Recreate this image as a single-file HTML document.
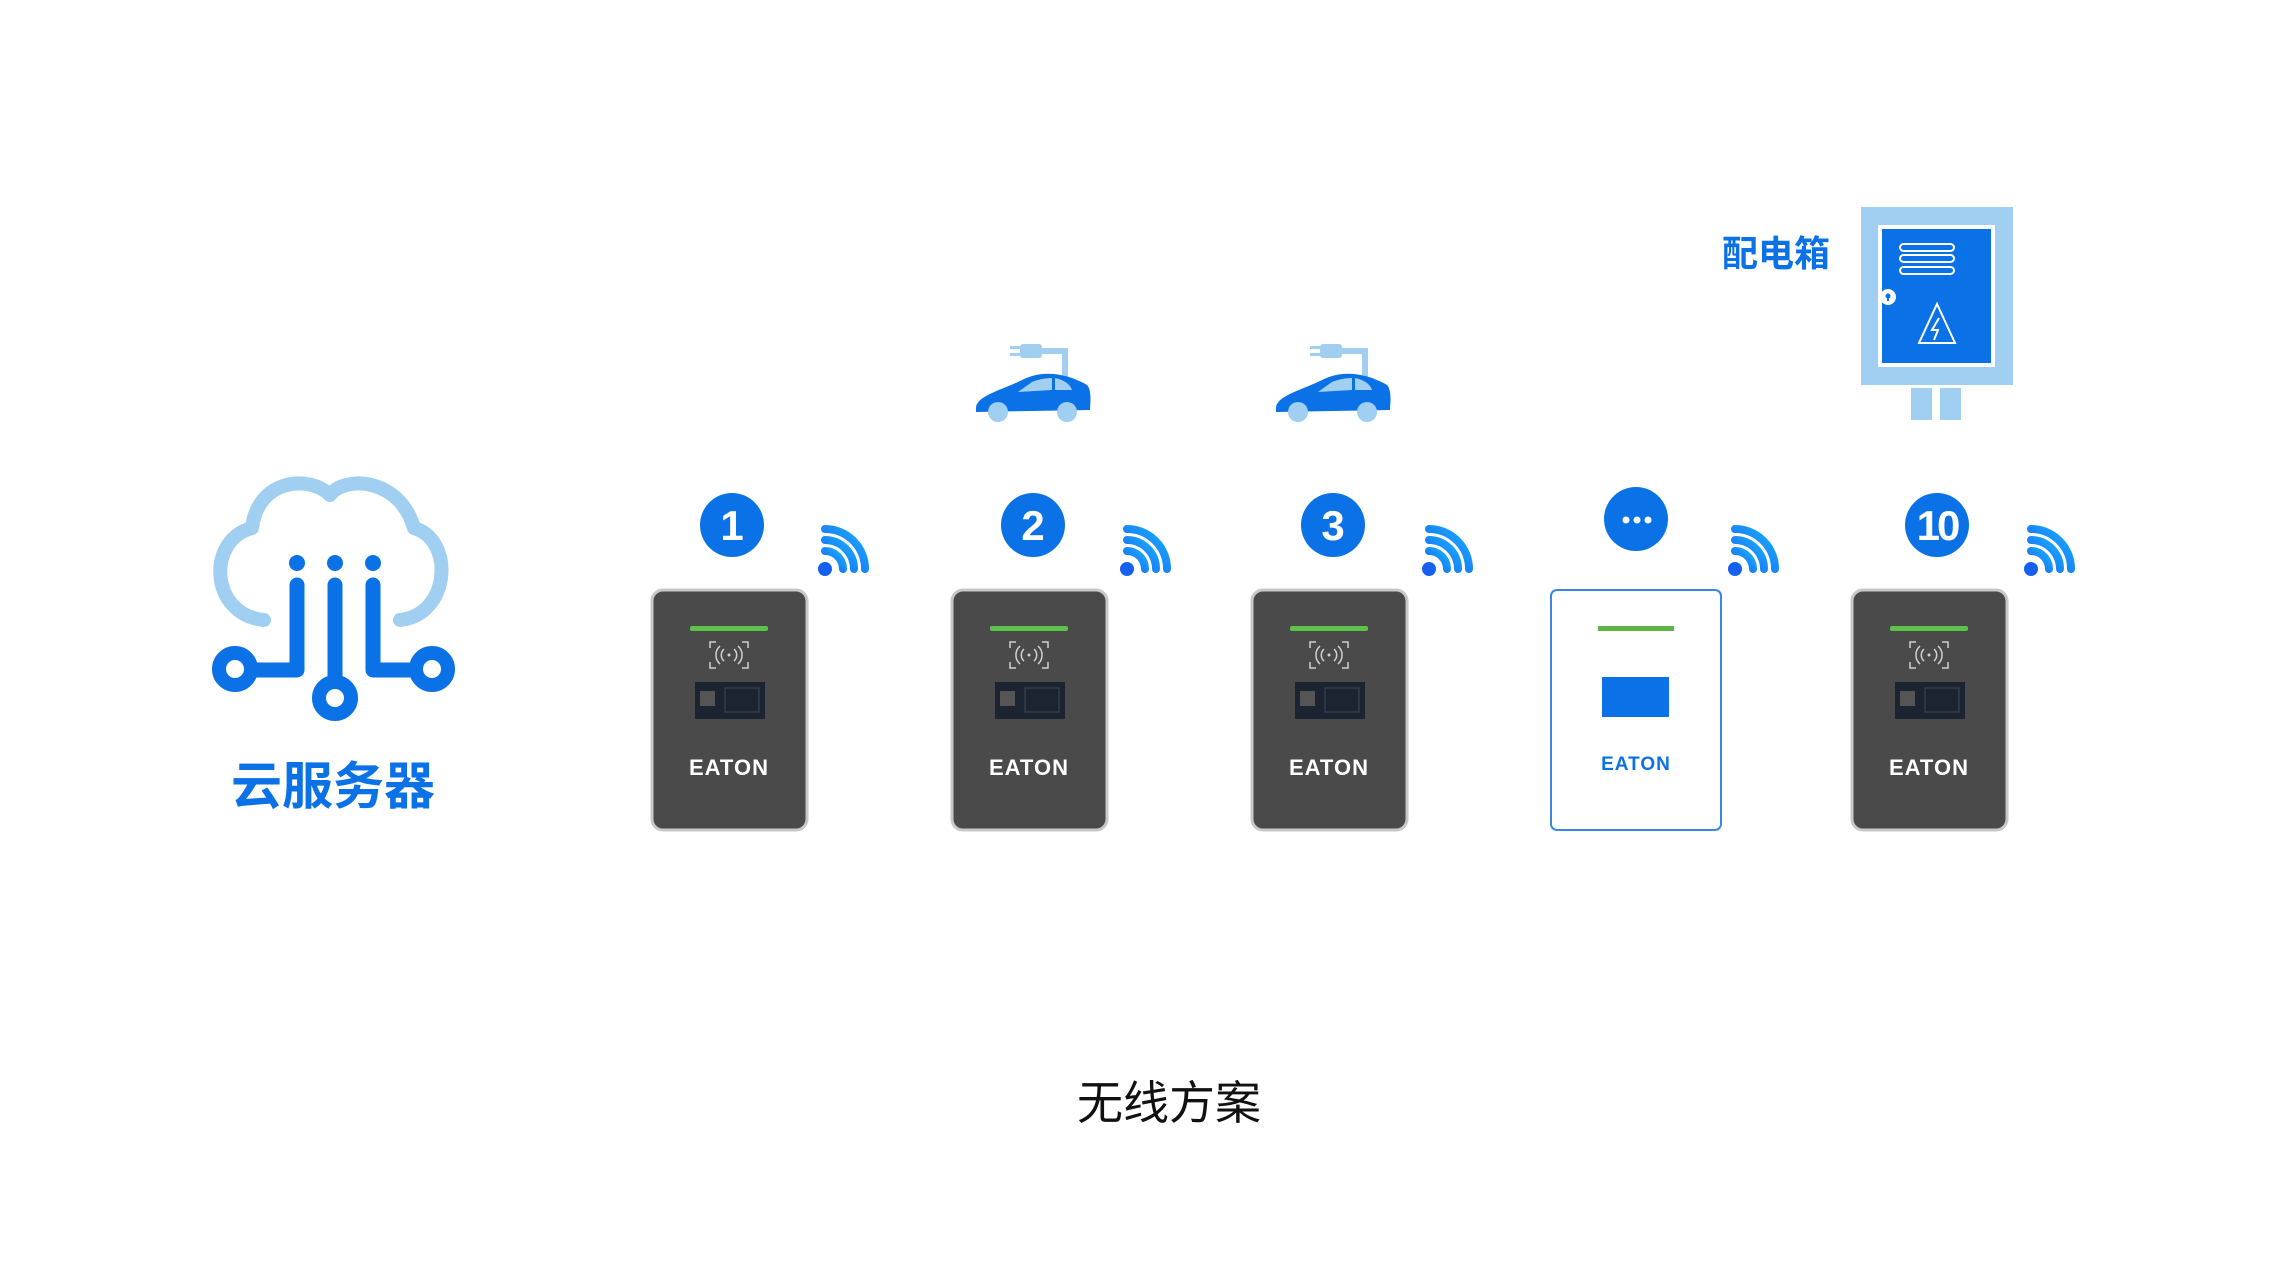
<!DOCTYPE html>
<html><head><meta charset="utf-8"><style>
html,body{margin:0;padding:0;background:#fff;}
svg{display:block}
text{font-family:"Liberation Sans","Noto Sans CJK SC",sans-serif;}
</style></head><body>
<svg width="2280" height="1282" viewBox="0 0 2280 1282" xmlns="http://www.w3.org/2000/svg">
<defs>
<linearGradient id="wg" x1="0" y1="1" x2="1" y2="0">
<stop offset="0" stop-color="#1660f0"/><stop offset="1" stop-color="#1ab0ff"/>
</linearGradient>
<g id="wifi">
<circle cx="0" cy="0" r="7" fill="#1660f0"/>
<path d="M0,-18 A18,18 0 0 1 18,0" stroke="url(#wg)" stroke-width="8" fill="none" stroke-linecap="round"/>
<path d="M0,-29 A29,29 0 0 1 29,0" stroke="url(#wg)" stroke-width="8" fill="none" stroke-linecap="round"/>
<path d="M0,-40 A40,40 0 0 1 40,0" stroke="url(#wg)" stroke-width="8" fill="none" stroke-linecap="round"/>
</g>
<g id="charger">
<rect x="0" y="0" width="155" height="240" rx="11" fill="#4a4a4a" stroke="#c8c8c8" stroke-width="3"/>
<rect x="38" y="36" width="78" height="5" rx="2" fill="#5cc24a"/>
<g stroke="#d0d0d0" stroke-width="1.5" fill="none">
<path d="M58,58 v-6 h6 M90,52 h6 v6 M58,72 v6 h6 M90,78 h6 v-6"/>
<path d="M72,59 a8,8 0 0 0 0,12 M82,59 a8,8 0 0 1 0,12 M68,56 a12,12 0 0 0 0,18 M86,56 a12,12 0 0 1 0,18"/>
</g>
<circle cx="77" cy="65" r="1.5" fill="#d0d0d0"/>
<rect x="43" y="92" width="70" height="37" fill="#1b2430"/>
<rect x="48" y="101" width="15" height="15" fill="#555"/>
<rect x="73" y="98" width="34" height="24" fill="none" stroke="#3a4a55" stroke-width="1"/>
<text x="77" y="185" text-anchor="middle" font-size="22" font-weight="bold" fill="#fff" letter-spacing="1">EATON</text>
</g>
<g id="car">
<rect x="48" y="6" width="22" height="14" rx="3" fill="#a0cff2"/>
<rect x="38" y="8" width="12" height="3" fill="#a0cff2"/>
<rect x="38" y="15" width="12" height="3" fill="#a0cff2"/>
<path d="M68,13 H93 V52" stroke="#a0cff2" stroke-width="6" fill="none"/>
<path d="M4,70 C4,58 30,52 50,42 C66,34 82,34 100,40 C110,44 114,46 116,48 C120,56 118,66 118,72 L4,74 Z" fill="#0a72e6"/>
<path d="M46,54 L60,44 C70,40 78,40 80,40 L80,52 Z" fill="#a0cff2"/>
<path d="M83,40 C92,42 98,46 100,52 L83,52 Z" fill="#a0cff2"/>
<circle cx="26" cy="74" r="10" fill="#a0cff2"/>
<circle cx="95" cy="74" r="10" fill="#a0cff2"/>
</g>
</defs>

<path d="M264,620 C210,615 206,540 252,528 C258,478 310,475 330,495 C345,475 400,478 414,528 C455,540 450,615 400,620" fill="none" stroke="#a0cff2" stroke-width="14" stroke-linecap="round" stroke-linejoin="round"/>
<g fill="#0a72e6">
<circle cx="297" cy="563" r="8"/><circle cx="335" cy="563" r="8"/><circle cx="373" cy="563" r="8"/>
</g>
<g stroke="#0a72e6" stroke-width="15" fill="none" stroke-linecap="round" stroke-linejoin="round">
<path d="M297,585 V670 H250"/>
<path d="M373,585 V670 H420"/>
<path d="M335,585 V680"/>
</g>
<circle cx="235" cy="669" r="16" fill="#fff" stroke="#0a72e6" stroke-width="14"/>
<circle cx="432" cy="669" r="16" fill="#fff" stroke="#0a72e6" stroke-width="14"/>
<circle cx="335" cy="698" r="16" fill="#fff" stroke="#0a72e6" stroke-width="14"/>
<text x="333" y="804" text-anchor="middle" font-size="51" font-weight="bold" fill="#0a72e6">云服务器</text>

<use href="#charger" x="652" y="590"/>
<use href="#charger" x="952" y="590"/>
<use href="#charger" x="1252" y="590"/>
<use href="#charger" x="1852" y="590"/>
<rect x="1551" y="590" width="170" height="240" rx="6" fill="#fff" stroke="#3a86e0" stroke-width="2"/>
<rect x="1598" y="626" width="76" height="5" fill="#5cb545"/>
<rect x="1602" y="677" width="67" height="40" fill="#0a72e6"/>
<text x="1636" y="770" text-anchor="middle" font-size="19" font-weight="bold" fill="#0a72e6" letter-spacing="1">EATON</text>

<g fill="#0a72e6">
<circle cx="732" cy="525" r="32"/><circle cx="1033" cy="525" r="32"/><circle cx="1333" cy="525" r="32"/><circle cx="1636" cy="519" r="32"/><circle cx="1937" cy="525" r="32"/>
</g>
<g fill="#fff" font-size="42" text-anchor="middle" font-weight="bold">
<text x="732" y="540">1</text><text x="1033" y="540">2</text><text x="1333" y="540">3</text><text x="1937" y="540" letter-spacing="-3">10</text>
</g>
<g fill="#fff"><circle cx="1626" cy="520" r="3.5"/><circle cx="1637" cy="520" r="3.5"/><circle cx="1648" cy="520" r="3.5"/></g>

<use href="#wifi" x="825" y="569"/>
<use href="#wifi" x="1127" y="569"/>
<use href="#wifi" x="1429" y="569"/>
<use href="#wifi" x="1735" y="569"/>
<use href="#wifi" x="2031" y="569"/>

<use href="#car" x="972" y="338"/>
<use href="#car" x="1272" y="338"/>

<rect x="1861" y="207" width="152" height="178" fill="#a0cff2"/>
<rect x="1878" y="225" width="117" height="142" fill="#fff"/>
<rect x="1882" y="229" width="109" height="134" fill="#0a72e6"/>
<g fill="none" stroke="#fff" stroke-width="2">
<rect x="1900" y="244" width="54" height="7" rx="3.5"/>
<rect x="1900" y="255" width="54" height="7" rx="3.5"/>
<rect x="1900" y="267" width="54" height="7" rx="3.5"/>
<path d="M1937,304 L1919,343 L1955,343 Z"/>
</g>
<path d="M1939,318 L1932,330 H1938 L1934,340" stroke="#fff" stroke-width="2" fill="none"/>
<circle cx="1888" cy="297" r="8" fill="#fff"/>
<circle cx="1888" cy="296" r="2.5" fill="#0a72e6"/><rect x="1887" y="296" width="2" height="5" fill="#0a72e6"/>
<rect x="1911" y="388" width="21" height="32" fill="#a0cff2"/>
<rect x="1940" y="388" width="21" height="32" fill="#a0cff2"/>
<text x="1776" y="266" text-anchor="middle" font-size="36" font-weight="bold" fill="#0a72e6">配电箱</text>

<text x="1169" y="1119" text-anchor="middle" font-size="46" fill="#111">无线方案</text>
</svg>
</body></html>
